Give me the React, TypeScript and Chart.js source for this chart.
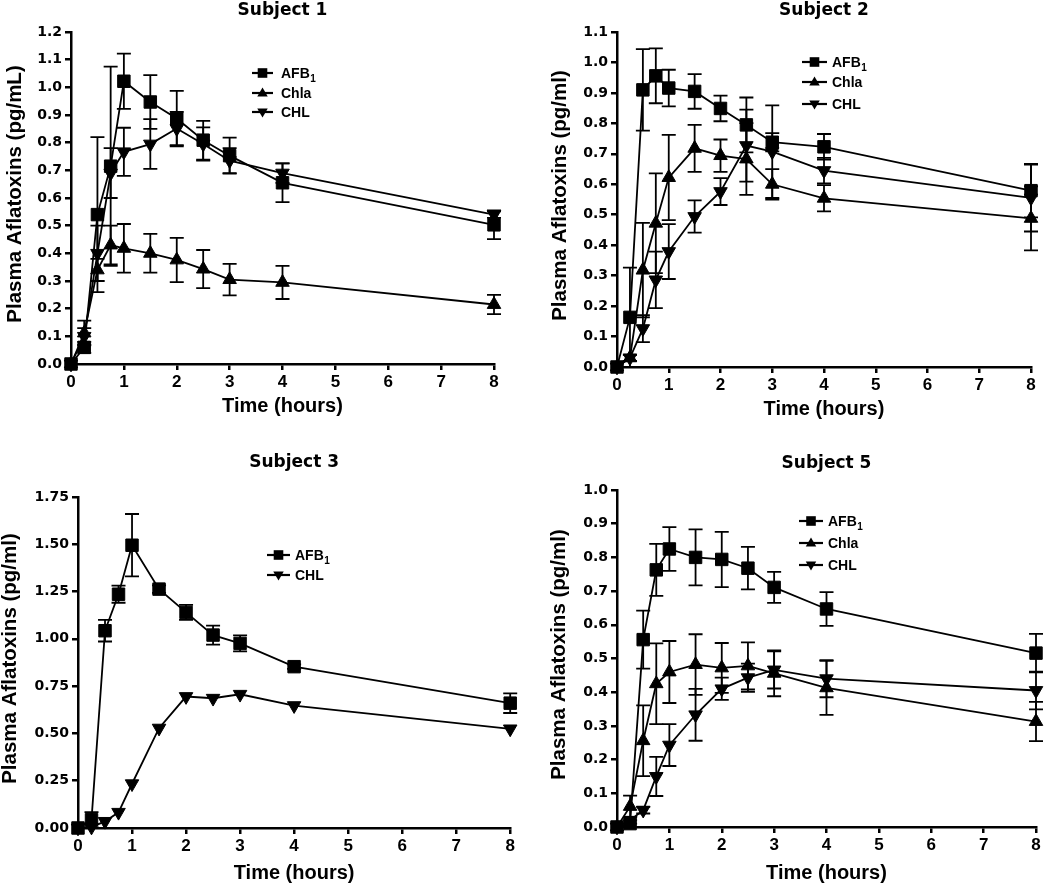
import React, { useEffect, useRef } from 'react';
import { Chart, registerables } from 'chart.js';
Chart.register(...registerables);

// ---------------- DATA ----------------
const TIMES = [0, 0.25, 0.5, 0.75, 1, 1.5, 2, 2.5, 3, 4, 8];
const X_TICKS = [0, 1, 2, 3, 4, 5, 6, 7, 8];

const S1_Y_TICKS = [0, 0.1, 0.2, 0.3, 0.4, 0.5, 0.6, 0.7, 0.8, 0.9, 1.0, 1.1, 1.2];
const S2_Y_TICKS = [0, 0.1, 0.2, 0.3, 0.4, 0.5, 0.6, 0.7, 0.8, 0.9, 1.0, 1.1];
const S3_Y_TICKS = [0, 0.25, 0.5, 0.75, 1.0, 1.25, 1.5, 1.75];
const S5_Y_TICKS = [0, 0.1, 0.2, 0.3, 0.4, 0.5, 0.6, 0.7, 0.8, 0.9, 1.0];

// Subject 1
const S1_AFB1 = [0, 0.06, 0.54, 0.715, 1.022, 0.947, 0.887, 0.809, 0.753, 0.655, 0.503];
const S1_AFB1_SD = [0, 0.02, 0.28, 0.36, 0.1, 0.097, 0.1, 0.07, 0.065, 0.07, 0.052];
const S1_CHLA = [0, 0.112, 0.34, 0.43, 0.418, 0.4, 0.376, 0.343, 0.305, 0.295, 0.215];
const S1_CHLA_SD = [0, 0.045, 0.04, 0.07, 0.088, 0.07, 0.08, 0.069, 0.057, 0.06, 0.035];
const S1_CHL = [0, 0.1, 0.4, 0.69, 0.767, 0.795, 0.851, 0.795, 0.735, 0.69, 0.54];
const S1_CHL_SD = [0, 0.03, 0.1, 0.09, 0.087, 0.09, 0.06, 0.06, 0.045, 0.035, 0.012];

// Subject 2
const S2_AFB1 = [0, 0.163, 0.91, 0.956, 0.916, 0.905, 0.849, 0.795, 0.738, 0.723, 0.579];
const S2_AFB1_SD = [0, 0.163, 0.134, 0.09, 0.06, 0.057, 0.042, 0.09, 0.03, 0.042, 0.088];
const S2_CHLA = [0, 0.03, 0.318, 0.472, 0.622, 0.718, 0.694, 0.683, 0.6, 0.554, 0.488];
const S2_CHLA_SD = [0, 0.01, 0.155, 0.164, 0.14, 0.077, 0.053, 0.118, 0.05, 0.043, 0.105];
const S2_CHL = [0, 0.03, 0.126, 0.286, 0.379, 0.494, 0.576, 0.727, 0.707, 0.645, 0.555];
const S2_CHL_SD = [0, 0.01, 0.044, 0.093, 0.09, 0.053, 0.044, 0.118, 0.152, 0.042, 0.11];

// Subject 3
const S3_AFB1 = [0, 0.044, 1.043, 1.236, 1.495, 1.263, 1.14, 1.02, 0.976, 0.853, 0.66];
const S3_AFB1_SD = [0, 0.04, 0.057, 0.045, 0.165, 0.02, 0.04, 0.05, 0.042, 0.012, 0.052];
const S3_CHL = [0, 0.005, 0.035, 0.083, 0.234, 0.528, 0.695, 0.686, 0.707, 0.647, 0.524];
const S3_CHL_SD = [0, 0, 0, 0, 0, 0, 0, 0, 0, 0, 0];

// Subject 5
const S5_AFB1 = [0, 0.01, 0.556, 0.763, 0.825, 0.8, 0.794, 0.768, 0.711, 0.647, 0.516];
const S5_AFB1_SD = [0, 0.01, 0.086, 0.077, 0.065, 0.083, 0.082, 0.063, 0.046, 0.05, 0.057];
const S5_CHLA = [0, 0.061, 0.256, 0.425, 0.46, 0.482, 0.472, 0.478, 0.456, 0.413, 0.313];
const S5_CHLA_SD = [0, 0.032, 0.105, 0.12, 0.092, 0.09, 0.074, 0.07, 0.068, 0.08, 0.058];
const S5_CHL = [0, 0.02, 0.05, 0.15, 0.243, 0.333, 0.41, 0.443, 0.466, 0.44, 0.405];
const S5_CHL_SD = [0, 0.01, 0.01, 0.058, 0.062, 0.077, 0.033, 0.042, 0.055, 0.055, 0.056];

// ---------------- CONFIG ----------------
type Marker = 'square' | 'up' | 'down';
type Series = { label: string; sub?: string; values: number[]; sd: number[]; marker: Marker };

const AFB = (values: number[], sd: number[]): Series => ({ label: 'AFB', sub: '1', values, sd, marker: 'square' });
const CHLA = (values: number[], sd: number[]): Series => ({ label: 'Chla', values, sd, marker: 'up' });
const CHL = (values: number[], sd: number[]): Series => ({ label: 'CHL', values, sd, marker: 'down' });

const PANELS = [
  {
    title: 'Subject 1', yLabel: 'Plasma Aflatoxins (pg/mL)', yTicks: S1_Y_TICKS, yMax: 1.2, decimals: 1,
    series: [AFB(S1_AFB1, S1_AFB1_SD), CHLA(S1_CHLA, S1_CHLA_SD), CHL(S1_CHL, S1_CHL_SD)],
    box: { left: 0, top: 0, w: 520, h: 440 },
    area: { left: 71, right: 494, top: 32, bottom: 364 },
    titleY: 15, xTitleY: 412, yTitleX: 15,
    legend: { x0: 252, x1: 273, tx: 281, rows: [73, 93, 112] },
  },
  {
    title: 'Subject 2', yLabel: 'Plasma Aflatoxins (pg/ml)', yTicks: S2_Y_TICKS, yMax: 1.1, decimals: 1,
    series: [AFB(S2_AFB1, S2_AFB1_SD), CHLA(S2_CHLA, S2_CHLA_SD), CHL(S2_CHL, S2_CHL_SD)],
    box: { left: 520, top: 0, w: 530, h: 440 },
    area: { left: 97, right: 511, top: 32, bottom: 367 },
    titleY: 15, xTitleY: 415, yTitleX: 40,
    legend: { x0: 282, x1: 307, tx: 312, rows: [62, 82, 104] },
  },
  {
    title: 'Subject 3', yLabel: 'Plasma Aflatoxins (pg/ml)', yTicks: S3_Y_TICKS, yMax: 1.75, decimals: 2,
    series: [AFB(S3_AFB1, S3_AFB1_SD), CHL(S3_CHL, S3_CHL_SD)],
    box: { left: 0, top: 440, w: 520, h: 446 },
    area: { left: 78, right: 515, top: 57, bottom: 388 },
    titleY: 27, xTitleY: 439, yTitleX: 10,
    legend: { x0: 267, x1: 290, tx: 295, rows: [115, 135] },
  },
  {
    title: 'Subject 5', yLabel: 'Plasma Aflatoxins (pg/ml)', yTicks: S5_Y_TICKS, yMax: 1.0, decimals: 1,
    series: [AFB(S5_AFB1, S5_AFB1_SD), CHLA(S5_CHLA, S5_CHLA_SD), CHL(S5_CHL, S5_CHL_SD)],
    box: { left: 520, top: 440, w: 530, h: 446 },
    area: { left: 97, right: 516, top: 50, bottom: 387 },
    titleY: 28, xTitleY: 439, yTitleX: 39,
    legend: { x0: 279, x1: 303, tx: 308, rows: [81, 103, 125] },
  },
];

type Panel = typeof PANELS[number];

function drawMarker(ctx: CanvasRenderingContext2D, kind: Marker, x: number, y: number, r: number) {
  ctx.beginPath();
  if (kind === 'square') {
    ctx.rect(x - r, y - r, 2 * r, 2 * r);
  } else if (kind === 'up') {
    ctx.moveTo(x, y - r * 1.1);
    ctx.lineTo(x + r * 1.05, y + r * 0.7);
    ctx.lineTo(x - r * 1.05, y + r * 0.7);
    ctx.closePath();
  } else {
    ctx.moveTo(x, y + r * 1.1);
    ctx.lineTo(x + r * 1.05, y - r * 0.7);
    ctx.lineTo(x - r * 1.05, y - r * 0.7);
    ctx.closePath();
  }
  ctx.fill();
}

function makePlugin(p: Panel) {
  return {
    id: 'decor',
    afterDatasetsDraw(chart: any) {
      const ctx: CanvasRenderingContext2D = chart.ctx;
      const xs = chart.scales.x;
      const ys = chart.scales.y;
      ctx.save();
      ctx.strokeStyle = '#000';
      ctx.fillStyle = '#000';
      ctx.lineWidth = 1.8;
      // error bars
      p.series.forEach((s) => {
        TIMES.forEach((t, i) => {
          const e = s.sd[i];
          if (!e) return;
          const x = xs.getPixelForValue(t);
          const y1 = ys.getPixelForValue(s.values[i] + e);
          const y2 = ys.getPixelForValue(Math.max(0, s.values[i] - e));
          ctx.beginPath();
          ctx.moveTo(x, y1);
          ctx.lineTo(x, y2);
          ctx.moveTo(x - 7, y1);
          ctx.lineTo(x + 7, y1);
          ctx.moveTo(x - 7, y2);
          ctx.lineTo(x + 7, y2);
          ctx.stroke();
        });
      });
      // title
      const a = chart.chartArea;
      const cx = (a.left + a.right) / 2;
      ctx.textAlign = 'center';
      ctx.textBaseline = 'alphabetic';
      ctx.font = 'bold 17px "DejaVu Sans"';
      ctx.fillText(p.title, cx, p.titleY);
      // x title
      ctx.font = 'bold 20px "Liberation Sans"';
      ctx.fillText('Time (hours)', cx, p.xTitleY);
      // y title
      ctx.save();
      ctx.translate(p.yTitleX, (a.top + a.bottom) / 2 - 4);
      ctx.rotate(-Math.PI / 2);
      ctx.textBaseline = 'middle';
      ctx.font = 'bold 20.5px "Liberation Sans"';
      ctx.fillText(p.yLabel, 0, 0);
      ctx.restore();
      // legend
      const L = p.legend;
      p.series.forEach((s, i) => {
        const y = L.rows[i];
        ctx.lineWidth = 2.2;
        ctx.beginPath();
        ctx.moveTo(L.x0, y);
        ctx.lineTo(L.x1, y);
        ctx.stroke();
        drawMarker(ctx, s.marker, (L.x0 + L.x1) / 2, y, s.marker === 'square' ? 4.8 : 5);
        ctx.textAlign = 'left';
        ctx.textBaseline = 'alphabetic';
        ctx.font = 'bold 14px "Liberation Sans"';
        ctx.fillText(s.label, L.tx, y + 5);
        if (s.sub) {
          const w = ctx.measureText(s.label).width;
          ctx.font = 'bold 10px "Liberation Sans"';
          ctx.fillText(s.sub, L.tx + w + 0.5, y + 9);
        }
      });
      ctx.restore();
    },
  };
}

function buildConfig(p: Panel): any {
  const datasets = p.series.map((s) => ({
    label: s.label,
    data: TIMES.map((t, i) => ({ x: t, y: s.values[i] })),
    borderColor: '#000',
    borderWidth: 1.8,
    backgroundColor: '#000',
    pointStyle: s.marker === 'square' ? 'rect' : 'triangle',
    pointRotation: s.marker === 'down' ? 180 : 0,
    pointRadius: s.marker === 'square' ? 8.8 : 7.8,
    pointBackgroundColor: '#000',
    pointBorderColor: '#000',
    pointBorderWidth: 1,
    tension: 0,
    fill: false,
    clip: false,
  }));
  const { area, box } = p;
  return {
    type: 'line',
    data: { datasets },
    options: {
      responsive: false,
      animation: false,
      events: [],
      layout: { padding: { left: 0, top: area.top, right: box.w - area.right, bottom: 0 } },
      plugins: { legend: { display: false }, tooltip: { enabled: false }, title: { display: false } },
      scales: {
        x: {
          type: 'linear',
          min: 0,
          max: 8,
          afterFit: (s: any) => { s.height = box.h - area.bottom; },
          afterBuildTicks: (s: any) => { s.ticks = X_TICKS.map((v) => ({ value: v })); },
          ticks: {
            autoSkip: false,
            maxRotation: 0,
            color: '#000',
            padding: 2,
            font: { family: '"Liberation Sans", Arial, sans-serif', weight: 'bold', size: 17 },
            callback: (v: any) => String(v),
          },
          grid: { drawOnChartArea: false, drawTicks: true, tickLength: 6, color: '#000', lineWidth: 2.5 },
          border: { display: true, color: '#000', width: 2.5 },
        },
        y: {
          type: 'linear',
          min: 0,
          max: p.yMax,
          afterFit: (s: any) => { s.width = area.left; },
          afterBuildTicks: (s: any) => { s.ticks = p.yTicks.map((v) => ({ value: v })); },
          ticks: {
            autoSkip: false,
            color: '#000',
            padding: 3,
            font: { family: '"DejaVu Sans", sans-serif', weight: 'bold', size: 14 },
            callback: (v: any) => Number(v).toFixed(p.decimals),
          },
          grid: { drawOnChartArea: false, drawTicks: true, tickLength: 6, color: '#000', lineWidth: 2.5 },
          border: { display: true, color: '#000', width: 2.5 },
        },
      },
    },
    plugins: [makePlugin(p)],
  };
}

function PanelChart({ p }: { p: Panel }) {
  const ref = useRef<HTMLCanvasElement>(null);
  useEffect(() => {
    if (!ref.current) return;
    const chart = new Chart(ref.current, buildConfig(p));
    return () => chart.destroy();
  }, [p]);
  return (
    <canvas
      ref={ref}
      width={p.box.w}
      height={p.box.h}
      style={{ position: 'absolute', left: p.box.left, top: p.box.top, width: p.box.w, height: p.box.h }}
    />
  );
}

export default function App() {
  return (
    <div style={{ position: 'absolute', left: 0, top: 0, width: 1050, height: 886, background: '#fff' }}>
      {PANELS.map((p) => (
        <PanelChart key={p.title} p={p} />
      ))}
    </div>
  );
}
